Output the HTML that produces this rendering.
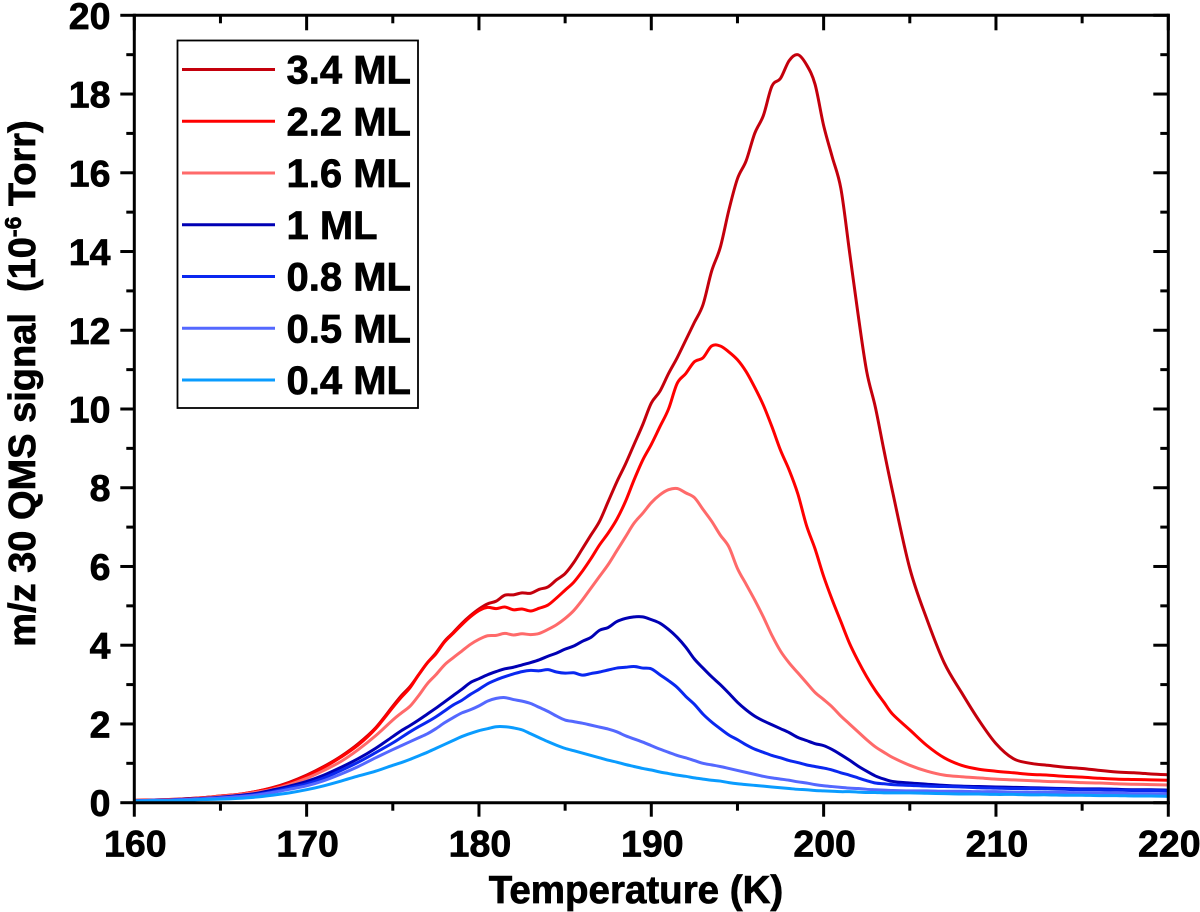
<!DOCTYPE html>
<html lang="en">
<head>
<meta charset="utf-8">
<title>m/z 30 QMS signal vs temperature</title>
<style>
html,body{margin:0;padding:0;background:#fff;}
svg{display:block;}
text{font-family:"Liberation Sans",Arial,sans-serif;font-weight:bold;fill:#000;stroke:#000;stroke-width:.7px;}
</style>
</head>
<body>
<svg id="chart" xmlns="http://www.w3.org/2000/svg" width="1200" height="912" viewBox="0 0 1200 912">
  <rect x="0" y="0" width="1200" height="912" fill="#fff"/>
  <g id="series-layer"></g>
  <g id="axes-layer"></g>
  <text x="636" y="903" font-size="38.5" text-anchor="middle">Temperature (K)</text>
  <text transform="translate(35,383.5) rotate(-90)" font-size="38" text-anchor="middle" xml:space="preserve">m/z 30 QMS signal  (10<tspan font-size="23" dy="-14">-6</tspan><tspan dy="14"> Torr)</tspan></text>
  <g id="legend">
    <rect x="177.5" y="40.5" width="240.5" height="367.5" fill="#fff" stroke="#000" stroke-width="1.8"/>
  </g>
</svg>
<script>
const temperatures = [160,161,162,163,164,165,166,167,168,169,170,171,172,173,174,175,
175.5,176,176.5,177,177.5,178,178.5,179,179.5,
180,180.5,181,181.5,182,182.5,183,183.5,184,184.5,185,185.5,186,186.5,187,187.5,188,188.5,189,189.5,190,190.5,191,191.5,192,192.5,193,193.5,194,194.5,195,195.5,196,196.5,197,197.5,198,198.5,199,199.5,200,200.5,201,201.5,202,202.5,203,203.5,204,
205,206,207,208,209,210,211,212,213,214,215,216,217,218,219,220];

const seriesLabels = ["3.4 ML","2.2 ML","1.6 ML","1 ML","0.8 ML","0.5 ML","0.4 ML"];
const seriesColors = ["#c4000c","#ff0000","#ff6a6a","#0000b4","#0a28f0","#5468ff","#0a9cff"];

const ml34 = [.06,.07,.08,.1,.13,.17,.21,.28,.38,.52,.7,.92,1.18,1.5,1.9,2.45,
2.72,2.95,3.25,3.55,3.8,4.1,4.32,4.55,4.75,
4.92,5.05,5.12,5.27,5.28,5.33,5.32,5.42,5.48,5.66,5.82,6.1,6.45,6.8,7.15,7.65,8.15,8.6,9.1,9.6,10.15,10.45,10.9,11.3,11.75,12.2,12.65,13.5,14.1,15.05,15.85,16.3,17.0,17.45,18.2,18.4,18.85,19.0,18.75,18.25,17.2,16.4,15.6,14.0,12.4,10.95,10.05,8.95,7.9,
5.95,4.65,3.55,2.8,2.1,1.5,1.12,1.0,.95,.9,.87,.82,.78,.76,.73,.71];
const ml22 = [.06,.07,.08,.1,.13,.17,.21,.28,.37,.5,.68,.9,1.16,1.47,1.88,2.42,
2.68,2.92,3.25,3.55,3.78,4.08,4.3,4.52,4.72,
4.88,4.96,4.93,4.97,4.9,4.92,4.87,4.94,5.02,5.2,5.4,5.6,5.88,6.2,6.55,6.85,7.2,7.65,8.2,8.7,9.1,9.55,10.0,10.65,10.9,11.2,11.3,11.6,11.6,11.45,11.25,10.95,10.55,10.1,9.55,8.95,8.45,7.85,7.05,6.45,5.75,5.15,4.6,4.05,3.6,3.2,2.85,2.55,2.25,
1.85,1.45,1.14,.95,.85,.8,.76,.72,.7,.67,.65,.62,.6,.59,.58,.57];
const ml16 = [.05,.06,.07,.09,.12,.16,.2,.26,.34,.46,.62,.82,1.05,1.35,1.7,2.1,
2.28,2.45,2.72,3.02,3.25,3.5,3.68,3.85,4.02,
4.15,4.24,4.25,4.3,4.26,4.29,4.27,4.3,4.4,4.52,4.68,4.88,5.15,5.45,5.75,6.05,6.4,6.75,7.1,7.35,7.62,7.82,7.95,7.98,7.87,7.75,7.45,7.15,6.8,6.5,5.95,5.55,5.15,4.72,4.25,3.85,3.55,3.3,3.05,2.8,2.62,2.43,2.2,2.0,1.8,1.6,1.42,1.28,1.15,
.95,.8,.7,.66,.63,.6,.58,.56,.54,.53,.51,.5,.48,.47,.46,.45];
const ml10 = [.05,.06,.07,.09,.11,.14,.18,.23,.32,.42,.54,.7,.9,1.12,1.38,1.68,
1.83,1.96,2.1,2.25,2.4,2.56,2.72,2.88,3.05,
3.15,3.25,3.33,3.4,3.44,3.5,3.56,3.63,3.72,3.8,3.9,3.98,4.1,4.2,4.38,4.45,4.6,4.68,4.72,4.72,4.65,4.56,4.4,4.2,3.95,3.65,3.42,3.2,3.0,2.78,2.55,2.36,2.2,2.08,1.98,1.88,1.78,1.66,1.58,1.5,1.45,1.35,1.22,1.08,.93,.8,.68,.6,.54,
.5,.47,.44,.42,.41,.4,.39,.38,.37,.36,.35,.35,.34,.33,.33,.32];
const ml08 = [.05,.06,.07,.08,.1,.13,.16,.21,.28,.38,.48,.63,.82,1.03,1.27,1.52,
1.66,1.8,1.93,2.05,2.18,2.33,2.48,2.6,2.75,
2.88,3.02,3.12,3.2,3.27,3.33,3.36,3.35,3.38,3.32,3.29,3.3,3.24,3.28,3.32,3.37,3.42,3.44,3.46,3.42,3.4,3.25,3.1,2.93,2.7,2.5,2.25,2.05,1.88,1.72,1.6,1.47,1.36,1.28,1.2,1.14,1.07,1.02,.96,.92,.88,.83,.76,.7,.63,.56,.5,.48,.46,
.44,.42,.41,.4,.38,.37,.36,.36,.35,.34,.33,.33,.32,.31,.31,.3];
const ml05 = [.05,.06,.07,.08,.1,.12,.15,.19,.26,.34,.43,.56,.73,.92,1.14,1.35,
1.45,1.55,1.65,1.75,1.88,2.03,2.16,2.28,2.36,
2.46,2.58,2.65,2.67,2.62,2.58,2.52,2.42,2.32,2.2,2.1,2.06,2.02,1.97,1.92,1.87,1.8,1.7,1.62,1.54,1.45,1.36,1.28,1.2,1.14,1.07,1.0,.96,.92,.87,.82,.77,.72,.67,.63,.6,.57,.53,.5,.46,.43,.41,.39,.37,.36,.34,.33,.32,.31,
.3,.3,.29,.29,.28,.28,.27,.27,.26,.26,.25,.25,.24,.23,.23,.22];
const ml04 = [.04,.05,.05,.06,.08,.09,.11,.14,.19,.25,.33,.43,.55,.68,.8,.95,
1.02,1.1,1.19,1.28,1.38,1.48,1.58,1.68,1.76,
1.83,1.88,1.93,1.93,1.9,1.85,1.75,1.65,1.55,1.46,1.38,1.32,1.26,1.2,1.14,1.08,1.03,.97,.92,.87,.83,.78,.74,.7,.67,.63,.6,.57,.55,.51,.48,.46,.44,.42,.4,.38,.36,.34,.33,.31,.3,.29,.28,.28,.27,.26,.26,.25,.25,
.25,.24,.23,.22,.22,.21,.21,.2,.2,.19,.19,.18,.18,.17,.17,.16];
const seriesValues = [ml34,ml22,ml16,ml10,ml08,ml05,ml04];

const xTickValues = [160,170,180,190,200,210,220];
const xMinorTickValues = [165,175,185,195,205,215];
const yTickValues = [0,2,4,6,8,10,12,14,16,18,20];
const yMinorTickValues = [1,3,5,7,9,11,13,15,17,19];

const NS = "http://www.w3.org/2000/svg";
const plot = {left:134.3,right:1168.3,top:15.3,bottom:802.7,xMin:160,xMax:220,yMin:0,yMax:20};
function xScale(v){return plot.left+(v-plot.xMin)*(plot.right-plot.left)/(plot.xMax-plot.xMin);}
function yScale(v){return plot.bottom-(v-plot.yMin)*(plot.bottom-plot.top)/(plot.yMax-plot.yMin);}

function seg(parent,x1,y1,x2,y2,w,color){
  const l=document.createElementNS(NS,"line");
  l.setAttribute("x1",x1);l.setAttribute("y1",y1);l.setAttribute("x2",x2);l.setAttribute("y2",y2);
  l.setAttribute("stroke",color||"#000");l.setAttribute("stroke-width",w);
  parent.appendChild(l);
  return l;
}
function label(parent,x,y,str,size,anchor){
  const t=document.createElementNS(NS,"text");
  t.setAttribute("x",x);t.setAttribute("y",y);t.setAttribute("font-size",size);
  t.setAttribute("text-anchor",anchor);t.textContent=str;
  parent.appendChild(t);
  return t;
}
function smoothPath(xs,ys){
  let d="M"+xScale(xs[0]).toFixed(2)+" "+yScale(ys[0]).toFixed(2);
  for(let i=0;i<xs.length-1;i++){
    const x0=xScale(xs[Math.max(i-1,0)]),y0=yScale(ys[Math.max(i-1,0)]);
    const x1=xScale(xs[i]),y1=yScale(ys[i]);
    const x2=xScale(xs[i+1]),y2=yScale(ys[i+1]);
    const x3=xScale(xs[Math.min(i+2,xs.length-1)]),y3=yScale(ys[Math.min(i+2,xs.length-1)]);
    d+="C"+(x1+(x2-x0)/6).toFixed(2)+" "+(y1+(y2-y0)/6).toFixed(2)+" "+(x2-(x3-x1)/6).toFixed(2)+" "+(y2-(y3-y1)/6).toFixed(2)+" "+x2.toFixed(2)+" "+y2.toFixed(2);
  }
  return d;
}

const seriesLayer=document.getElementById("series-layer");
seriesValues.forEach(function(vals,i){
  const p=document.createElementNS(NS,"path");
  p.setAttribute("d",smoothPath(temperatures,vals));
  p.setAttribute("fill","none");
  p.setAttribute("stroke",seriesColors[i]);
  p.setAttribute("stroke-width","3");
  p.setAttribute("stroke-linejoin","round");
  
  
  seriesLayer.appendChild(p);
});

const axes=document.getElementById("axes-layer");
const aw=3;
const frame=[
  seg(axes,plot.left,plot.top,plot.right+1.5,plot.top,aw),
  seg(axes,plot.left,plot.bottom,plot.right+1.5,plot.bottom,aw),
  seg(axes,plot.left,plot.top-1.5,plot.left,plot.bottom+1.5,aw),
  seg(axes,plot.right,plot.top-1.5,plot.right,plot.bottom+1.5,aw)
];
frame.forEach(function(el){
  
  
});
xTickValues.forEach(function(v){
  const x=xScale(v);
  const b=seg(axes,x,plot.bottom,x,plot.bottom+14,aw);
  
  
  const t=seg(axes,x,plot.top,x,plot.top+15,aw);
  
  
  const lab=label(axes,x+1,856.7,String(v),37.5,"middle");
  
  
});
xMinorTickValues.forEach(function(v){
  const x=xScale(v);
  const b=seg(axes,x,plot.bottom,x,plot.bottom+8,aw);
  
  
  const t=seg(axes,x,plot.top,x,plot.top+8,aw);
  
  
});
yTickValues.forEach(function(v){
  const y=yScale(v);
  const l=seg(axes,plot.left-14,y,plot.left,y,aw);
  
  
  const r=seg(axes,plot.right-15,y,plot.right,y,aw);
  
  
  const lab=label(axes,110.5,y+13.5,String(v),37.5,"end");
  
  
});
yMinorTickValues.forEach(function(v){
  const y=yScale(v);
  const l=seg(axes,plot.left-8,y,plot.left,y,aw);
  
  
  const r=seg(axes,plot.right-8,y,plot.right,y,aw);
  
  
});

const legend=document.getElementById("legend");
seriesLabels.forEach(function(name,i){
  const y=69.5+i*51.75;
  const swatch=seg(legend,182,y,275,y,3,seriesColors[i]);
  
  
  const lab=label(legend,286.5,y+14,name,40,"start");
  
  
});
</script>
</body>
</html>
